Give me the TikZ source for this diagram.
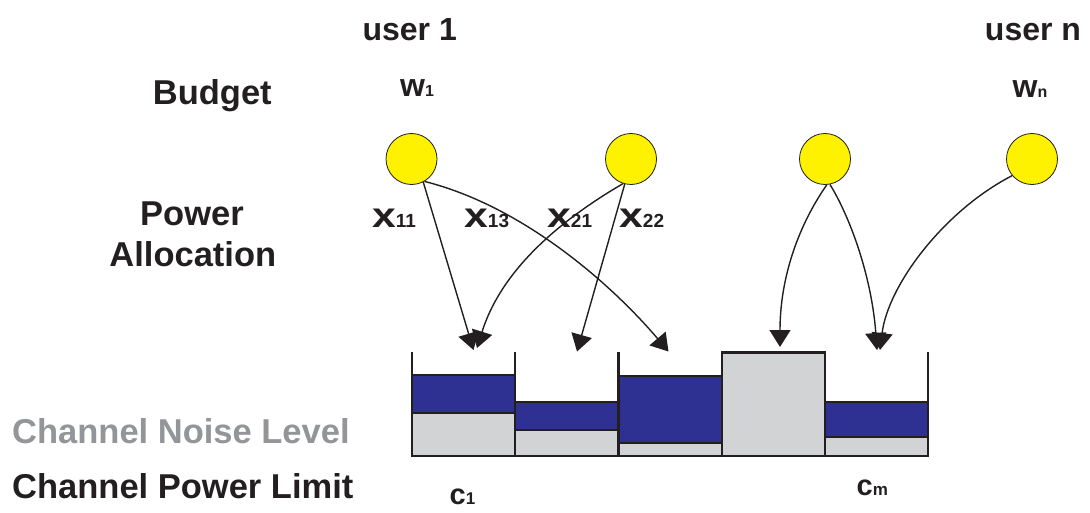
\documentclass[tikz,border=0pt]{standalone}
\usepackage{fontspec}
\setmainfont{Liberation Sans}
\usepackage{graphicx}
\usetikzlibrary{arrows.meta}
\definecolor{sunyellow}{HTML}{FFF200}
\definecolor{waterblue}{HTML}{2E3192}
\definecolor{noisegray}{HTML}{D1D3D4}
\definecolor{labelgray}{HTML}{939598}
\definecolor{linedark}{HTML}{231F20}
\newcommand\xsym[1]{\scalebox{1.22}[1]{\fontsize{35}{36}\selectfont x}{\fontsize{19}{20}\selectfont #1}}
\newcommand\wsym[1]{{\fontsize{32}{34}\selectfont w}{\fontsize{16}{18}\selectfont #1}}
\newcommand\csym[1]{{\fontsize{29}{30}\selectfont c}{\fontsize{17}{18}\selectfont #1}}
\begin{document}
\begin{tikzpicture}[x=1pt,y=-1pt,
  biglbl/.style={font=\bfseries\fontsize{34.5}{36}\selectfont, inner sep=0pt, text=linedark},
  userlbl/.style={font=\bfseries\fontsize{32}{34}\selectfont, inner sep=0pt, text=linedark},
  varlbl/.style={font=\bfseries, inner sep=0pt, text=linedark, anchor=base west},
  userdot/.style={circle, draw=linedark, line width=0.8pt, fill=sunyellow, minimum size=51pt, inner sep=0pt},
  flow/.style={draw=linedark, line width=1.4pt, -{Triangle[length=17pt,width=21pt]}},
  binwall/.style={draw=linedark, line width=2.6pt},
  bluefill/.style={fill=waterblue, draw=linedark, line width=2pt},
  grayfill/.style={fill=noisegray, draw=linedark, line width=2pt}]
\useasboundingbox (0,0) rectangle (1090,513);

% row labels
\node[userlbl, anchor=base] (uone) at (409.7,40.7) {user 1};
\node[userlbl, anchor=base] (un) at (1033,40.7) {user n};
\node[biglbl, anchor=base] (budget) at (212.3,105) {Budget};
\node[biglbl, anchor=base] (power) at (192,225.7) {Power};
\node[biglbl, anchor=base] (alloc) at (192.8,266.7) {Allocation};
\node[biglbl, anchor=base west, text=labelgray] (noise) at (12,443.3) {Channel Noise Level};
\node[biglbl, anchor=base west] (limit) at (12,498.3) {Channel Power Limit};

% budgets
\node[varlbl] (wone) at (400,97) {\wsym{1}};
\node[varlbl] (wn) at (1012.5,97.5) {\wsym{n}};

% users
\node[userdot] (ua) at (411.5,159) {};
\node[userdot] (ub) at (631,159) {};
\node[userdot] (uc) at (825,159) {};
\node[userdot] (ud) at (1032,159) {};

% allocation labels
\node[varlbl] (xaa) at (372,227.7) {\xsym{11}};
\node[varlbl] (xac) at (464,227.7) {\xsym{13}};
\node[varlbl] (xba) at (547,227.7) {\xsym{21}};
\node[varlbl] (xbb) at (619,227.7) {\xsym{22}};

% channels (water filling)
\draw[grayfill] (412,412.7) rectangle (515,456);
\draw[bluefill] (412,375.3) rectangle (515,412.7);
\draw[grayfill] (515,430) rectangle (618.5,456);
\draw[bluefill] (515,401.7) rectangle (618.5,430);
\draw[grayfill] (618.5,442.7) rectangle (722,456);
\draw[bluefill] (618.5,375.7) rectangle (722,442.7);
\draw[grayfill] (722,352.5) rectangle (825,456);
\draw[grayfill] (825,436.7) rectangle (928,456);
\draw[bluefill] (825,402) rectangle (928,436.7);
\draw[binwall] (412,351.5) -- (412,456) -- (928,456) -- (928,351.5);
\draw[binwall] (515,351.5) -- (515,456);
\draw[binwall] (618.5,351.5) -- (618.5,456);
\draw[binwall] (722,456) -- (722,352.5) -- (825,352.5) -- (825,456);

% channel labels
\node[varlbl] (cone) at (449.5,504.3) {\csym{1}};
\node[varlbl] (cm) at (856.5,495.7) {\csym{m}};

% arrow targets
\coordinate (ta) at (473.5,350);
\coordinate (tc) at (477,348);
\coordinate (td) at (577,351.5);
\coordinate (tb) at (668.5,351.5);
\coordinate (te) at (780,347);
\coordinate (tf) at (877,350);
\coordinate (tg) at (880,350);

% allocations
\draw[flow] (ua.-63) -- (ta);
\draw[flow] (ua.-60) .. controls +(100,25) and +(-55,-65) .. (tb);
\draw[flow] (ub.-108) .. controls +(-60,35) and +(25,-80) .. (tc);
\draw[flow] (ub.-104) -- (td);
\draw[flow] (uc.-86) .. controls +(-28,40) and +(0,-70) .. (te);
\draw[flow] (uc.-79) .. controls +(22,36) and +(-5,-70) .. (tf);
\draw[flow] (ud.-140) .. controls +(-68,35) and +(8,-65) .. (tg);
\end{tikzpicture}
\end{document}
